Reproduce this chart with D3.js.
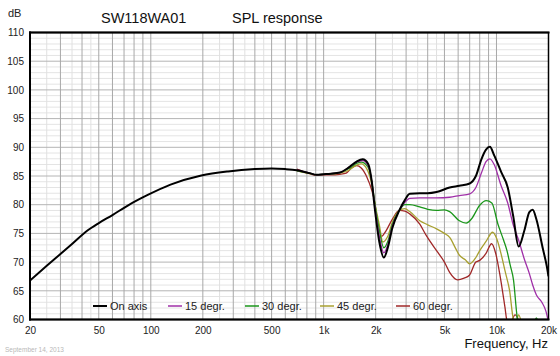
<!DOCTYPE html>
<html><head><meta charset="utf-8">
<script src="https://cdn.jsdelivr.net/npm/d3@7"></script>
<style>body{margin:0;background:#fff}svg{display:block;font-family:"Liberation Sans",Arial,sans-serif}</style>
</head><body><svg id="c" width="560" height="356"></svg>
<script>
// ---- data ----
const xTickValues = [20, 50, 100, 200, 500, 1000, 2000, 5000, 10000, 20000];
const xTickLabels = ["20", "50", "100", "200", "500", "1k", "2k", "5k", "10k", "20k"];
const yTickValues = [60, 65, 70, 75, 80, 85, 90, 95, 100, 105, 110];
const seriesNames = ["On axis", "15 degr.", "30 degr.", "45 degr.", "60 degr."];
const seriesColors = ["#000000", "#a030a8", "#1a961a", "#a8a030", "#a02828"];

const onAxisFreq = [20,25,30,35,43,50,60,74,96,130,196,280,400,500,600,700,830,910,1000,1100,1240,1400,1550,1683,1810,1900,1972,2100,2230,2350,2500,2740,2950,3150,3600,4000,4500,5360,6100,7000,7600,8200,8700,9160,9700,10640,11620,12500,13440,14500,15500,16200,17000,18500,19600,20000];
const onAxisSPL  = [66.8,69.35,71.4,73.15,75.5,76.8,78.2,79.9,81.7,83.5,85.1,85.8,86.2,86.3,86.2,86.0,85.5,85.2,85.3,85.4,85.6,86.5,87.5,87.9,87.1,84.0,79.6,73.5,70.8,72.5,76.0,79.0,80.8,81.9,82.0,82.0,82.2,83.0,83.3,83.7,85.0,88.0,89.6,90.1,88.6,85.7,83.0,78.0,72.7,75.5,78.7,79.1,77.5,72.5,69.1,67.5];

const deg15Freq = [700,830,910,1000,1100,1240,1400,1550,1683,1810,1900,1972,2100,2230,2350,2500,2740,2950,3150,3600,4000,4500,5360,6100,7000,7600,8200,8700,9160,9700,10640,11620,12500,13440,14500,15500,16200,17000,18300,19300,20000];
const deg15SPL  = [86.0,85.5,85.2,85.3,85.4,85.6,86.5,87.4,87.7,86.8,84.0,80.0,74.5,71.6,73.0,76.3,79.0,80.4,81.1,81.2,81.2,81.2,81.3,81.6,81.9,83.0,85.6,87.5,88.0,87.0,83.3,80.3,76.5,73.8,70.5,68.0,66.0,64.3,63.0,61.5,59.5];

const deg30Freq = [700,830,910,1000,1100,1240,1400,1550,1650,1810,1900,1972,2100,2230,2350,2500,2740,2950,3150,3600,4000,4500,5000,5360,6100,6680,7200,8000,8720,9400,10200,11000,11500,12000,12560,13100,13500,14500,16000,17000,18000,19000];
const deg30SPL  = [85.9,85.5,85.2,85.3,85.4,85.6,86.3,87.2,87.4,86.5,84.0,80.5,75.5,72.5,73.6,76.6,79.0,80.0,80.0,79.6,79.2,79.0,79.1,78.8,77.2,76.8,77.6,79.9,80.7,80.3,76.6,73.8,72.0,69.5,66.8,61.0,58.0,55.0,57.0,60.3,58.0,55.0];

const deg45Freq = [700,830,910,1000,1100,1240,1400,1550,1650,1780,1900,1972,2100,2200,2350,2500,2740,2950,3150,3600,4000,4500,5000,5360,5800,6100,6600,7000,7600,8000,8700,9500,10000,10640,11200,11900,12600,13000,13400,13900,14500];
const deg45SPL  = [85.9,85.4,85.2,85.3,85.3,85.5,86.0,86.9,87.1,86.2,83.5,80.5,76.5,73.5,74.5,77.0,79.0,79.3,78.8,77.2,76.5,75.8,75.0,74.3,72.4,71.2,70.4,69.7,70.8,72.0,73.6,75.2,74.2,71.4,68.5,65.1,59.8,59.6,60.8,59.5,55.0];

const deg60Freq = [700,830,910,1000,1100,1240,1350,1450,1550,1650,1780,1900,1972,2060,2160,2300,2500,2740,2950,3150,3600,3930,4500,5000,5360,5960,6500,6970,7600,8000,8700,9370,9900,10440,11200,11500,12000,12800,13500,14000];
const deg60SPL  = [86.2,85.4,85.1,85.2,85.2,85.3,85.5,86.4,86.8,86.4,84.8,82.5,80.5,76.5,74.5,75.5,77.5,79.0,78.9,78.4,76.6,74.6,72.0,70.0,68.2,66.9,67.2,67.7,70.0,70.3,71.5,73.2,71.5,68.0,62.1,59.8,59.2,60.8,59.5,56.0];

// ---- chart ----
const svg = d3.select("#c");
const L = 30, R = 548.5, T = 32.5, B = 319.5;
const x = d3.scaleLog().domain([20, 20000]).range([L, R]);
const y = d3.scaleLinear().domain([60, 110]).range([B, T]);

// grid
const minorX = [25,35,45,250,350,450,2500,3500,4500];
const majorX = [];
[10,100,1000].forEach(d => { for (let k = 1; k <= 10; k++) { const v = d*k; if (v >= 20 && v <= 20000 && !majorX.includes(v)) majorX.push(v); } });
const minorY = d3.range(60, 111, 1).filter(v => v % 5 !== 0);
const majorY = d3.range(65, 110, 5);
const g = svg.append("g");
g.selectAll(".mny").data(minorY).join("line").attr("x1", L).attr("x2", R).attr("y1", d => y(d)).attr("y2", d => y(d)).attr("stroke", "#e4e4e4").attr("stroke-width", 1);
g.selectAll(".mnx").data(minorX).join("line").attr("x1", d => x(d)).attr("x2", d => x(d)).attr("y1", T).attr("y2", B).attr("stroke", "#e0e0e0").attr("stroke-width", 1);
g.selectAll(".mjy").data(majorY).join("line").attr("x1", L).attr("x2", R).attr("y1", d => y(d)).attr("y2", d => y(d)).attr("stroke", "#b4b4b4").attr("stroke-width", 1);
g.selectAll(".mjx").data(majorX).join("line").attr("x1", d => x(d)).attr("x2", d => x(d)).attr("y1", T).attr("y2", B).attr("stroke", "#a8a8a8").attr("stroke-width", 1);

// clip
svg.append("clipPath").attr("id", "clip").append("rect").attr("x", L).attr("y", T).attr("width", R - L).attr("height", B - T);

const line = d3.line().x(d => x(d[0])).y(d => y(d[1])).curve(d3.curveMonotoneX);
const series = [
  [deg60Freq, deg60SPL, 4],
  [deg45Freq, deg45SPL, 3],
  [deg30Freq, deg30SPL, 2],
  [deg15Freq, deg15SPL, 1],
  [onAxisFreq, onAxisSPL, 0]
];
const cg = svg.append("g").attr("clip-path", "url(#clip)");
series.forEach(([f, s, i]) => {
  cg.append("path").datum(f.map((v, k) => [v, s[k]])).attr("d", line)
    .attr("fill", "none").attr("stroke", seriesColors[i]).attr("stroke-width", i === 0 ? 2 : 1.3).attr("stroke-linejoin", "round");
});

// frame
svg.append("rect").attr("x", L).attr("y", T).attr("width", R - L).attr("height", B - T).attr("fill", "none").attr("stroke", "#000").attr("stroke-width", 1.5);
svg.append("line").attr("x1", L).attr("x2", L).attr("y1", T - 1).attr("y2", B + 1).attr("stroke", "#000").attr("stroke-width", 2);
svg.append("line").attr("x1", L - 1).attr("x2", R + 1).attr("y1", T).attr("y2", T).attr("stroke", "#000").attr("stroke-width", 2);
svg.append("line").attr("x1", L - 1).attr("x2", R + 1).attr("y1", B).attr("y2", B).attr("stroke", "#000").attr("stroke-width", 2);

// axes labels
const yAxis = d3.axisLeft(y).tickValues(yTickValues).tickSize(0).tickPadding(6).tickFormat(d3.format("d"));
const ya = svg.append("g").attr("transform", `translate(${L},0)`).call(yAxis);
ya.select(".domain").remove();
ya.selectAll("text").attr("font-size", 10).attr("fill", "#222").attr("font-family", "Liberation Sans, Arial, sans-serif");

const xAxis = d3.axisBottom(x).tickValues(xTickValues).tickSize(0).tickPadding(7).tickFormat((d, i) => xTickLabels[i]);
const xa = svg.append("g").attr("transform", `translate(0,${B})`).call(xAxis);
xa.select(".domain").remove();
xa.selectAll("text").attr("font-size", 10).attr("fill", "#222").attr("font-family", "Liberation Sans, Arial, sans-serif");

// titles
svg.append("text").attr("x", 8).attr("y", 17).attr("font-size", 11).attr("fill", "#222").text("dB");
svg.append("text").attr("x", 101).attr("y", 23).attr("font-size", 14.5).attr("fill", "#111").text("SW118WA01");
svg.append("text").attr("x", 232).attr("y", 23).attr("font-size", 14.5).attr("fill", "#111").text("SPL response");
svg.append("text").attr("x", 548).attr("y", 348).attr("text-anchor", "end").attr("font-size", 13).attr("fill", "#111").text("Frequency, Hz");
svg.append("text").attr("x", 5).attr("y", 352).attr("font-size", 6.5).attr("fill", "#b8b8b8").text("September 14, 2013");

// legend
const legX = [93, 168, 245, 320, 396];
const lg = svg.append("g");
seriesNames.forEach((n, i) => {
  lg.append("line").attr("x1", legX[i]).attr("x2", legX[i] + 14).attr("y1", 306).attr("y2", 306).attr("stroke", seriesColors[i]).attr("stroke-width", i === 0 ? 2 : 1.5);
  lg.append("text").attr("x", legX[i] + 17).attr("y", 310).attr("font-size", 11).attr("fill", "#222").text(n);
});
</script></body></html>
